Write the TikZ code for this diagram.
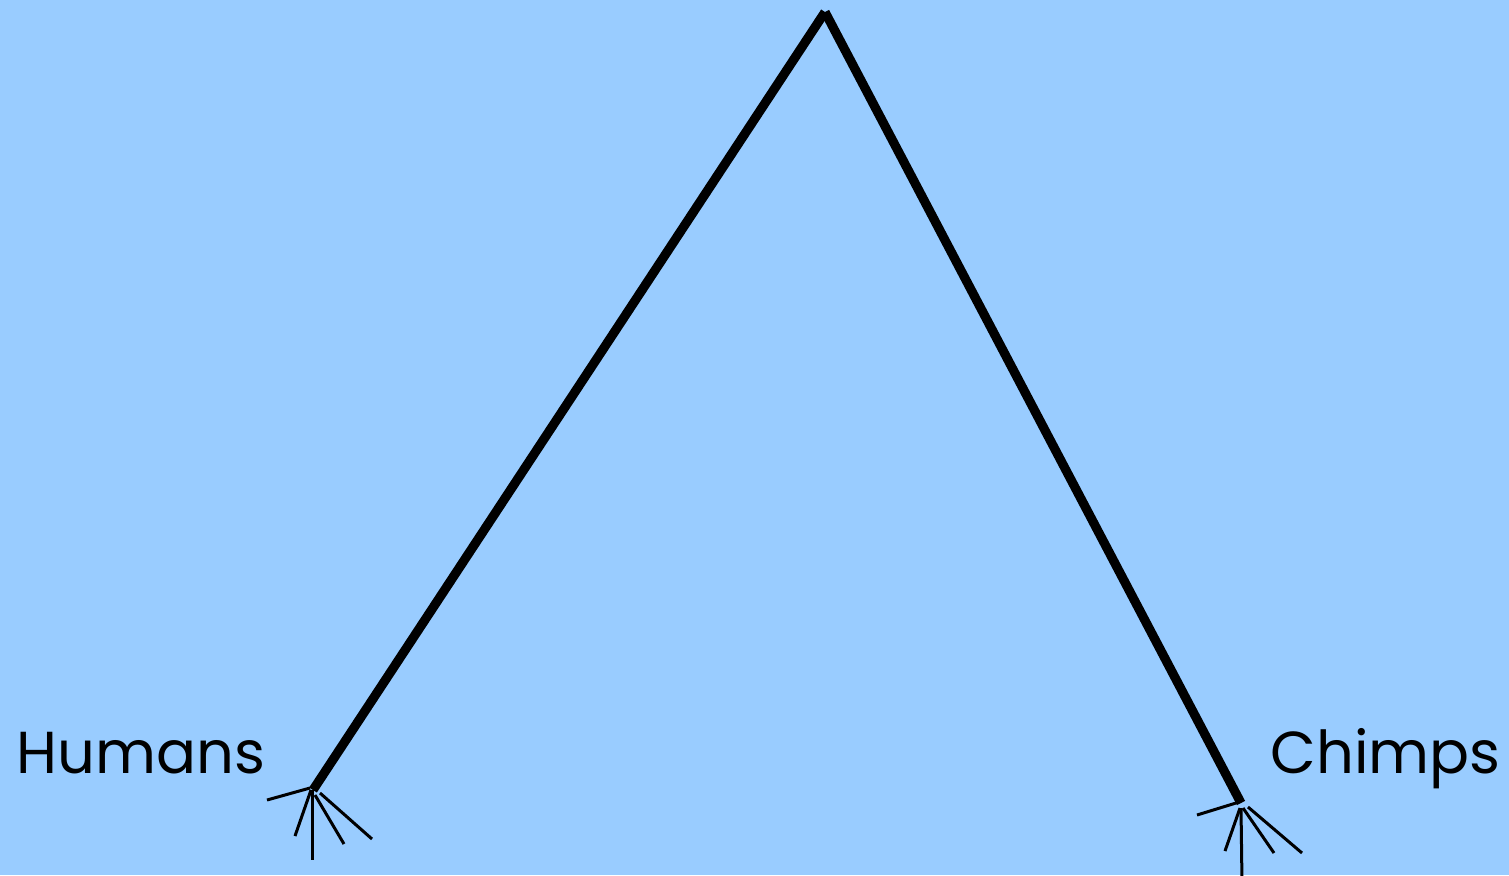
\documentclass[tikz,border=0pt]{standalone}
\usepackage{fontspec}
\setmainfont{Poppins}
\usetikzlibrary{positioning,calc}
\definecolor{skyback}{HTML}{99CCFF}

\begin{document}
\begin{tikzpicture}[x=0.5pt, y=-0.5pt,
  branch/.style={line width=4.6pt, draw=black},
  rootlet/.style={line width=1.5pt, draw=black},
  taxon/.style={font=\fontsize{29.6}{34}\selectfont, inner sep=0pt, anchor=base west},
]
  \fill[skyback] (0,0) rectangle (1509,875);
  \useasboundingbox (0,0) rectangle (1509,875);
  % tree
  \coordinate (top) at (825,12);
  \coordinate (hum) at (313,790);
  \coordinate (chi) at (1241,803);
  \draw[branch] (top) -- (hum);
  \draw[branch] (top) -- (chi);
  % roots at the tips
  \foreach \dx/\dy/\ex/\ey in {-3/-2/-43/12, -2/0/-16/46, -1/0/0/70, 2/5/29/49, 7/3/52/46}
    \draw[rootlet] ($(hum)+(\dx,\dy)$) -- ++(\ex,\ey);
  \foreach \dx/\dy/\ex/\ey in {-5/0/-39/12, -1/5/-15/43, 0/5/1/75, 2/5/31/45, 7/4/54/46}
    \draw[rootlet] ($(chi)+(\dx,\dy)$) -- ++(\ex,\ey);
  % labels
  \node[taxon] (humans) at (16,773) {Humans};
  \node[taxon] (chimps) at (1270,773) {Chimps};
\end{tikzpicture}
\end{document}
